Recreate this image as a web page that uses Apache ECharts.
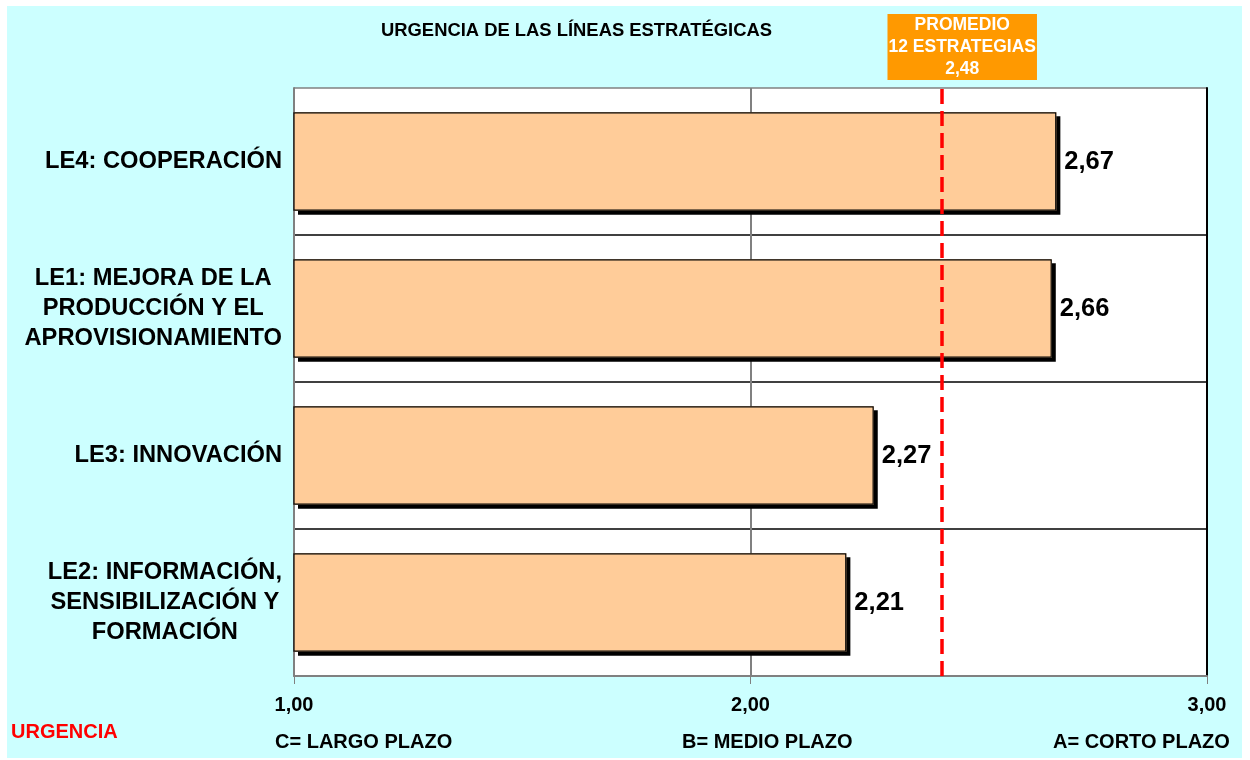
<!DOCTYPE html>
<html>
<head>
<meta charset="utf-8">
<script src="https://cdn.jsdelivr.net/npm/echarts@6/dist/echarts.min.js"></script>
<style>
    body { margin: 0; background: #ffffff; }
    #box { position: absolute; left: 7px; top: 6px; width: 1235px; height: 752px; }
</style>
</head>
<body>
<div id="box"></div>
<script>
// categories from bottom to top
var lineas = [
    'LE2: INFORMACIÓN,\nSENSIBILIZACIÓN Y\nFORMACIÓN',
    'LE3: INNOVACIÓN',
    'LE1: MEJORA DE LA\nPRODUCCIÓN Y EL\nAPROVISIONAMIENTO',
    'LE4: COOPERACIÓN'
];
var urgencia = [2.21, 2.27, 2.66, 2.67];
var ejeTicks = [1, 2, 3];
var plazos = ['C= LARGO PLAZO', 'B= MEDIO PLAZO', 'A= CORTO PLAZO'];
var promedioPos = 2.42;      // where the dashed line sits in the picture
var promedioTxt = '2,48';    // value printed in the box

function coma(v) {
    return v.toFixed(2).replace('.', ',');
}

var font = 'Liberation Sans, Arial, sans-serif';
var myChart = echarts.init(document.getElementById('box'));
var option = {
    backgroundColor: '#CCFFFF',
    animation: false,
    title: [{
        text: 'URGENCIA DE LAS LÍNEAS ESTRATÉGICAS',
        left: 374, top: 16, padding: 0,
        textStyle: { fontFamily: font, fontSize: 18.4, fontWeight: 'bold', color: '#000' }
    }, {
        text: 'URGENCIA',
        left: 4, top: 716, padding: 0,
        textStyle: { fontFamily: font, fontSize: 20, fontWeight: 'bold', color: '#FF0000' }
    }, {
        text: plazos[0],
        left: 268, top: 726, padding: 0,
        textStyle: { fontFamily: font, fontSize: 20, fontWeight: 'bold', color: '#000' }
    }, {
        text: plazos[1],
        left: 675, top: 726, padding: 0,
        textStyle: { fontFamily: font, fontSize: 20, fontWeight: 'bold', color: '#000' }
    }, {
        text: plazos[2],
        left: 1046, top: 726, padding: 0,
        textStyle: { fontFamily: font, fontSize: 20, fontWeight: 'bold', color: '#000' }
    }],
    grid: {
        left: 287, top: 82, width: 913, height: 588,
        show: true, backgroundColor: '#ffffff', borderWidth: 0
    },
    xAxis: {
        type: 'value',
        min: 1, max: 3, interval: 1,
        axisLine: { show: true, lineStyle: { color: '#808080', width: 2 } },
        axisTick: { show: true, length: 8, lineStyle: { color: '#808080', width: 1 } },
        splitLine: { show: true, lineStyle: { color: '#808080', width: 2 } },
        axisLabel: {
            margin: 19,
            fontFamily: font, fontSize: 20, fontWeight: 'bold', color: '#000',
            formatter: function (v) { return coma(v); }
        }
    },
    yAxis: [{
        type: 'category',
        data: lineas,
        axisLine: { show: true, lineStyle: { color: '#808080', width: 2 } },
        axisTick: { show: false },
        splitLine: {
            show: true,
            lineStyle: { color: ['#808080', '#000', '#000', '#000', '#808080'], width: 1.5 }
        },
        axisLabel: {
            margin: 12,
            formatter: function (v) {
                return v.split('\n').map(function (s) { return '{c|' + s + '}'; }).join('\n');
            },
            rich: {
                c: {
                    align: 'center',
                    fontFamily: font, fontSize: 23.7, fontWeight: 'bold', color: '#000',
                    lineHeight: 30
                }
            }
        }
    }, {
        type: 'category',
        data: lineas,
        position: 'right',
        axisLine: { show: true, lineStyle: { color: '#000', width: 2 } },
        axisTick: { show: false },
        axisLabel: { show: false },
        splitLine: { show: false }
    }],
    series: [{
        // shadow layer
        name: 'Sombra',
        type: 'bar',
        data: urgencia,
        barWidth: '67%',
        silent: true,
        itemStyle: {
            color: '#FFCC99',
            shadowColor: '#000',
            shadowBlur: 0,
            shadowOffsetX: 4,
            shadowOffsetY: 4
        }
    }, {
        name: 'Urgencia',
        type: 'bar',
        data: urgencia,
        barWidth: '67%',
        barGap: '-100%',
        itemStyle: {
            color: '#FFCC99',
            borderColor: '#000',
            borderWidth: 1.2
        },
        label: {
            show: true,
            position: 'right',
            distance: 8,
            fontFamily: font, fontSize: 25.5, fontWeight: 'bold', color: '#000',
            formatter: function (p) { return coma(p.value); }
        },
        markLine: {
            silent: true,
            symbol: 'none',
            lineStyle: { color: '#FF0000', width: 3.5, type: [15, 7] },
            label: {
                show: true,
                position: 'end',
                distance: 8,
                offset: [20, 0],
                formatter: 'PROMEDIO\n12 ESTRATEGIAS\n' + promedioTxt,
                fontFamily: font, fontSize: 17.5, fontWeight: 'bold', color: '#fff',
                lineHeight: 22,
                backgroundColor: '#FF9900',
                padding: [0, 1]
            },
            data: [{ xAxis: promedioPos }]
        }
    }]
};
myChart.setOption(option);
</script>
</body>
</html>
